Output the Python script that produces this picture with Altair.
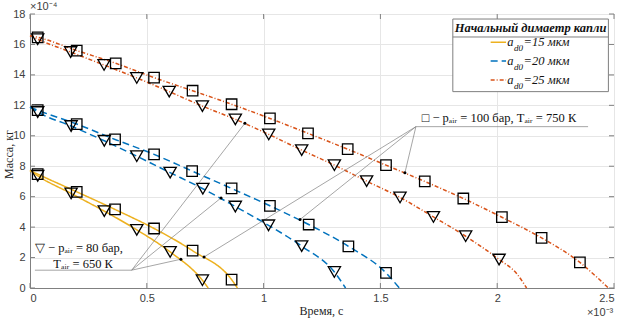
import altair as alt
import pandas as pd

# ---------------- data (time in 1e-3 s, mass in 1e-4 kg) ----------------
diam = ["15", "20", "25"]
colors = ["#EDB120", "#0072BD", "#D95319"]
dashes = [[1, 0], [7, 4], [4, 2, 1, 2]]

# markers: p = 100 bar (squares), p = 80 bar (triangles)
t15_p100 = [0.033, 0.200, 0.364, 0.531, 0.696, 0.863]
m15_p100 = [7.48, 6.32, 5.16, 3.91, 2.45, 0.55]
t15_p80 = [0.033, 0.176, 0.318, 0.457, 0.600, 0.738]
m15_p80 = [7.37, 6.21, 5.05, 3.82, 2.37, 0.51]

t20_p100 = [0.033, 0.200, 0.364, 0.531, 0.694, 0.863, 1.027, 1.193, 1.363, 1.524]
m20_p100 = [11.68, 10.77, 9.76, 8.78, 7.68, 6.54, 5.40, 4.17, 2.74, 0.99]
t20_p80 = [0.033, 0.176, 0.318, 0.457, 0.600, 0.740, 0.879, 1.021, 1.163, 1.303]
m20_p80 = [11.56, 10.64, 9.67, 8.66, 7.58, 6.52, 5.35, 4.12, 2.75, 1.05]

t25_p100 = [0.033, 0.200, 0.367, 0.531, 0.696, 0.863, 1.027, 1.190, 1.360, 1.524,
            1.690, 1.855, 2.020, 2.190, 2.354]
m25_p100 = [16.47, 15.60, 14.76, 13.82, 12.96, 12.07, 11.14, 10.16, 9.12, 8.07,
            7.00, 5.88, 4.65, 3.29, 1.68]
t25_p80 = [0.033, 0.174, 0.317, 0.457, 0.596, 0.738, 0.879, 1.022, 1.163, 1.303,
           1.441, 1.584, 1.727, 1.865, 2.008]
m25_p80 = [16.34, 15.50, 14.65, 13.80, 12.90, 11.95, 11.08, 10.09, 9.06, 8.07,
           7.02, 5.95, 4.67, 3.40, 1.87]

# curve start mass (t = 0) and read tail points of each curve
start_m = {"15": 7.72, "20": 11.88, "25": 16.58}
tail_t = {("15", "100"): [0.888], ("15", "80"): [0.763],
          ("20", "100"): [1.581], ("20", "80"): [1.351],
          ("25", "100"): [2.426, 2.476], ("25", "80"): [2.083, 2.126]}
tail_m = {("15", "100"): [0.0], ("15", "80"): [0.0],
          ("20", "100"): [0.0], ("20", "80"): [0.0],
          ("25", "100"): [0.72, 0.0], ("25", "80"): [0.95, 0.0]}

series = {("15", "100"): (t15_p100, m15_p100), ("15", "80"): (t15_p80, m15_p80),
          ("20", "100"): (t20_p100, m20_p100), ("20", "80"): (t20_p80, m20_p80),
          ("25", "100"): (t25_p100, m25_p100), ("25", "80"): (t25_p80, m25_p80)}

# callouts
call_t = [0.021, 0.435, 0.435, 0.435, 1.652, 1.652, 1.652, 1.652]
call_m = [1.17, 1.17, 1.17, 1.17, 10.60, 10.60, 10.60, 10.60]
call_t2 = [0.435, 0.646, 0.818, 0.920, 2.389, 1.605, 1.156, 0.745]
call_m2 = [1.17, 1.89, 5.92, 10.82, 10.60, 7.57, 4.50, 2.04]
dot_t = [0.646, 0.818, 0.920, 1.605, 1.156, 0.745]
dot_m = [1.89, 5.92, 10.82, 7.57, 4.50, 2.04]
note_text = ["▽ − pₐᵢᵣ = 80 бар,", "Tₐᵢᵣ = 650 К", "□ − pₐᵢᵣ = 100 бар, Tₐᵢᵣ = 750 К"]
note_t = [0.021, 0.100, 1.677]
note_m = [2.36, 1.31, 10.90]

# legend (placed in data units)
leg_title = "Начальный димаетр капли"
leg_labels = ["=15 мкм", "=20 мкм", "=25 мкм"]
leg_m = [16.14, 14.91, 13.67]

x_ticks = [0, 0.5, 1, 1.5, 2, 2.5]
y_ticks = list(range(0, 19, 2))

# ---------------- tables ----------------
line_rows, mk_rows = [], []
for (d, p), (ts, ms) in series.items():
    sid = d + "_" + p
    line_rows.append({"t": 0.0, "m": start_m[d], "d": d, "p": p, "s": sid})
    for t, m in zip(ts, ms):
        line_rows.append({"t": t, "m": m, "d": d, "p": p, "s": sid})
        mk_rows.append({"t": t, "m": m, "d": d, "p": p})
    for t, m in zip(tail_t[(d, p)], tail_m[(d, p)]):
        line_rows.append({"t": t, "m": m, "d": d, "p": p, "s": sid})
lines_df = pd.DataFrame(line_rows)
mk_df = pd.DataFrame(mk_rows)

call_df = pd.DataFrame({"t": call_t, "m": call_m, "t2": call_t2, "m2": call_m2})
dot_df = pd.DataFrame({"t": dot_t, "m": dot_m})
note_df = pd.DataFrame({"t": note_t, "m": note_m, "txt": note_text})
leg_df = pd.DataFrame({"d": diam, "lab": leg_labels, "m": leg_m,
                       "t1": [1.972] * 3, "t2": [2.038] * 3,
                       "ta": [2.043] * 3, "tb": [2.072] * 3, "tc": [2.113] * 3})
xt_df = pd.DataFrame({"t": x_ticks})
yt_df = pd.DataFrame({"m": y_ticks})

# ---------------- scales / axes ----------------
xs = alt.Scale(domain=[0, 2.5], nice=False, zero=False)
ys = alt.Scale(domain=[0, 18], nice=False, zero=False)
cs = alt.Scale(domain=diam, range=colors)
ds = alt.Scale(domain=diam, range=dashes)

x_axis = alt.Axis(values=x_ticks, format="~g", title="Время, с", grid=True,
                  gridColor="#e6e6e6", ticks=False, domainColor="#808080",
                  labelFont="Liberation Sans", labelFontSize=11, labelColor="#404040",
                  labelPadding=4, titleFont="Liberation Serif", titleFontSize=12,
                  titleFontWeight="normal", titleColor="#262626",
                  titleX=291, titleY=22, titleBaseline="middle", titleAlign="center")
y_axis = alt.Axis(values=y_ticks, title="Масса, кг", grid=True,
                  gridColor="#e6e6e6", ticks=False, domainColor="#808080",
                  labelFont="Liberation Sans", labelFontSize=11, labelColor="#404040",
                  labelPadding=5, titleFont="Liberation Serif", titleFontSize=12,
                  titleFontWeight="normal", titleColor="#262626", titleAngle=270,
                  titleX=-22, titleY=140, titleBaseline="middle", titleAlign="center")

X = lambda f="t": alt.X(f + ":Q", scale=xs, axis=x_axis)
Y = lambda f="m": alt.Y(f + ":Q", scale=ys, axis=y_axis)

lines = alt.Chart(lines_df).mark_line(strokeWidth=1.5, interpolate="monotone").encode(
    x=X(), y=Y(),
    color=alt.Color("d:N", scale=cs, legend=None),
    strokeDash=alt.StrokeDash("d:N", scale=ds, legend=None),
    detail="s:N",
)

squares = alt.Chart(mk_df).transform_filter("datum.p == '100'").mark_point(
    shape="square", filled=False, color="black", strokeWidth=1.3, size=110, opacity=1
).encode(x=X(), y=Y())
tris = alt.Chart(mk_df).transform_filter("datum.p == '80'").mark_point(
    shape="triangle-down", filled=False, color="black", strokeWidth=1.3, size=150, opacity=1
).encode(x=X(), y=Y())

callouts = alt.Chart(call_df).mark_rule(color="#7f7f7f", strokeWidth=0.7).encode(
    x=X(), y=Y(), x2="t2:Q", y2="m2:Q")
dots = alt.Chart(dot_df).mark_circle(color="black", size=9, opacity=1).encode(x=X(), y=Y())
notes = alt.Chart(note_df).mark_text(align="left", baseline="alphabetic",
                                     font="Liberation Serif", fontSize=12.5, color="#111111").encode(
    x=X(), y=Y(), text="txt:N")

# ticks (inward)
tk = dict(color="#808080", strokeWidth=1)
tb = alt.Chart(xt_df).mark_rule(**tk).encode(x=X(), y=alt.value(274), y2=alt.value(269))
tt = alt.Chart(xt_df).mark_rule(**tk).encode(x=X(), y=alt.value(0), y2=alt.value(5))
tl = alt.Chart(yt_df).mark_rule(**tk).encode(y=Y(), x=alt.value(0), x2=alt.value(5))
tr = alt.Chart(yt_df).mark_rule(**tk).encode(y=Y(), x=alt.value(584), x2=alt.value(579))

# exponent labels
exp_df = pd.DataFrame({"t": [0.0, 2.384], "m": [18.27, -1.84], "txt": ["×10⁻⁴", "×10⁻³"]})
exps = alt.Chart(exp_df).mark_text(align="left", baseline="alphabetic", font="Liberation Sans",
                                   fontSize=11, color="#404040").encode(x=X(), y=Y(), text="txt:N")

# legend
box_df = pd.DataFrame({"t": [1.81], "t2": [2.476], "m": [17.67], "m2": [12.90],
                       "mu": [16.49], "tc": [2.143], "mt": [17.08], "txt": [leg_title]})
box = alt.Chart(box_df).mark_rect(fill="white", stroke="#7f7f7f", strokeWidth=1).encode(
    x=X(), x2="t2:Q", y=Y(), y2="m2:Q")
uline = alt.Chart(box_df).mark_rule(color="#7f7f7f", strokeWidth=1).encode(
    x=X(), x2="t2:Q", y=Y("mu"))
ltitle = alt.Chart(box_df).mark_text(font="Liberation Serif", fontSize=12.5, fontStyle="italic",
                                     fontWeight="bold", color="#111111", baseline="middle").encode(
    x=X("tc"), y=Y("mt"), text="txt:N")
lsample = alt.Chart(leg_df).mark_rule(strokeWidth=1.5).encode(
    x=X("t1"), x2="t2:Q", y=Y(),
    color=alt.Color("d:N", scale=cs, legend=None),
    strokeDash=alt.StrokeDash("d:N", scale=ds, legend=None))
ltxt_style = dict(font="Liberation Serif", fontStyle="italic", color="#111111",
                  align="left", baseline="middle")
la = alt.Chart(leg_df).mark_text(fontSize=12.5, **ltxt_style).encode(
    x=X("ta"), y=Y(), text=alt.value("a"))
lb = alt.Chart(leg_df).mark_text(fontSize=9, dy=6, **ltxt_style).encode(
    x=X("tb"), y=Y(), text=alt.value("d0"))
lc = alt.Chart(leg_df).mark_text(fontSize=12.5, **ltxt_style).encode(
    x=X("tc"), y=Y(), text="lab:N")

chart = alt.layer(
    lines, callouts, squares, tris, dots, notes, tb, tt, tl, tr, exps,
    box, uline, ltitle, lsample, la, lb, lc
).properties(
    width=584, height=274,
    autosize=alt.AutoSizeParams(type="none"),
    padding={"left": 30, "top": 14, "right": 10, "bottom": 30},
    background="white",
).configure_view(stroke="#a6a6a6", strokeWidth=1)

chart.save("out.html", embed_options={"renderer": "svg", "actions": False})
